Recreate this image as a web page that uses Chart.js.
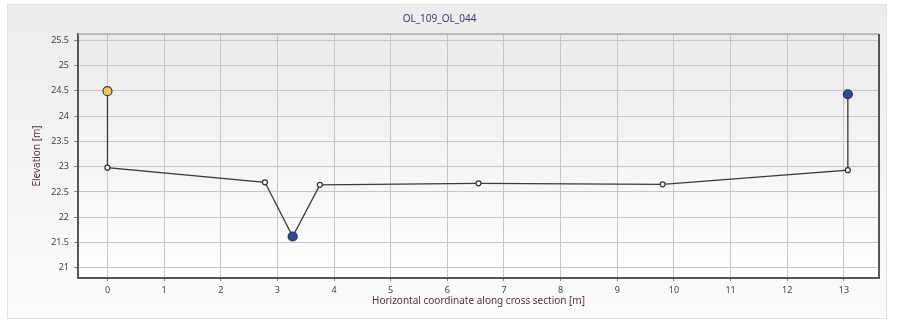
<!DOCTYPE html>
<html>
<head>
<meta charset="utf-8">
<script src="https://cdn.jsdelivr.net/npm/chart.js@4.4.0/dist/chart.umd.min.js"></script>
<style>
  body { margin: 0; background: #fff; }
  canvas { display: block; }
</style>
</head>
<body>
<canvas id="xsec" width="902" height="320"></canvas>
<script>
// cross section OL_109_OL_044
var chartTitle = "OL_109_OL_044";
var xLabel = "Horizontal coordinate along cross section [m]";
var yLabel = "Elevation [m]";

var stationX = [0, 0, 2.78, 3.27, 3.75, 6.55, 9.80, 13.07, 13.07];
var elevation = [24.49, 22.98, 22.69, 21.62, 22.64, 22.67, 22.65, 22.93, 24.43];
// marker role for each point: bank = left bank top, thalweg, rbank = right bank top
var pointRole = ["bank", "", "", "thalweg", "", "", "", "", "rbank"];

var xMin = -0.52, xMax = 13.62;
var yMin = 20.8, yMax = 25.62;

var pts = [];
for (var i = 0; i < stationX.length; i++) {
    pts.push({ x: stationX[i], y: elevation[i] });
}

var bgPlugin = {
    id: 'bgPlugin',
    beforeDraw: function (chart) {
        var c = chart.ctx;
        var a = chart.chartArea;
        c.save();
        var g = c.createLinearGradient(0, 4, 0, 318);
        g.addColorStop(0, "#ececec");
        g.addColorStop(1, "#fbfbfb");
        c.fillStyle = g;
        c.fillRect(7, 4, 879, 314);
        c.strokeStyle = "#e2e2e2";
        c.lineWidth = 1;
        c.strokeRect(7.5, 4.5, 879, 314);
        var g2 = c.createLinearGradient(0, a.top, 0, a.bottom);
        g2.addColorStop(0, "#ebebeb");
        g2.addColorStop(1, "#fefefe");
        c.fillStyle = g2;
        c.fillRect(a.left, a.top, a.right - a.left, a.bottom - a.top);
        c.restore();
    },
    afterDraw: function (chart) {
        var c = chart.ctx;
        var a = chart.chartArea;
        c.save();
        c.strokeStyle = "#a8a8a8";
        c.lineWidth = 1.5;
        c.beginPath();
        c.moveTo(a.left, a.top);
        c.lineTo(a.right, a.top);
        c.stroke();
        c.strokeStyle = "#555";
        c.lineWidth = 2;
        c.beginPath();
        c.moveTo(a.right, a.top);
        c.lineTo(a.right, a.bottom);
        c.stroke();
        c.restore();
    }
};

function roleFill(ctx) {
    var r = pointRole[ctx.dataIndex];
    if (r === "bank") return "#f2c55a";
    if (r === "thalweg" || r === "rbank") return "#2c4b94";
    return "#f4f4f4";
}
function roleBorder(ctx) {
    var r = pointRole[ctx.dataIndex];
    if (r === "bank") return "#3a3a3a";
    if (r === "thalweg" || r === "rbank") return "#1c2f6a";
    return "#333";
}
function roleRadius(ctx) {
    return pointRole[ctx.dataIndex] ? 4.5 : 2.5;
}

var tickFont = { family: "'Noto Sans', sans-serif", size: 9 };
var labelFont = { family: "'Noto Sans', sans-serif", size: 10, weight: 'normal' };

var ctx = document.getElementById("xsec").getContext('2d');
var xsec = new Chart(ctx, {
    type: 'scatter',
    data: {
        datasets: [
            {
                label: "Cross section",
                data: pts,
                showLine: true,
                borderColor: "#3a3a3a",
                borderWidth: 1.3,
                pointBackgroundColor: roleFill,
                pointBorderColor: roleBorder,
                pointBorderWidth: 1.2,
                pointRadius: roleRadius,
                fill: false,
                tension: 0
            }
        ]
    },
    options: {
        responsive: false,
        animation: false,
        devicePixelRatio: 1,
        layout: { padding: { left: 0, right: 23, top: 0, bottom: 0 } },
        plugins: {
            legend: { display: false },
            tooltip: { enabled: false },
            title: {
                display: true,
                text: chartTitle,
                color: "#3b3b78",
                font: labelFont,
                padding: { top: 13, bottom: 9 }
            }
        },
        scales: {
            x: {
                type: 'linear',
                min: xMin,
                max: xMax,
                afterFit: function (scale) { scale.height = 42; },
                ticks: {
                    stepSize: 1,
                    includeBounds: false,
                    color: "#444",
                    padding: 4,
                    maxRotation: 0,
                    font: tickFont
                },
                grid: { color: "#c6c6c6", lineWidth: 1, tickLength: 3, tickColor: "#888" },
                border: { color: "#555", width: 2 },
                title: {
                    display: true,
                    text: xLabel,
                    color: "#553048",
                    font: labelFont,
                    padding: { top: 0, bottom: 13 }
                }
            },
            y: {
                type: 'linear',
                min: yMin,
                max: yMax,
                afterFit: function (scale) { scale.width = 78; },
                ticks: {
                    stepSize: 0.5,
                    includeBounds: false,
                    color: "#444",
                    padding: 5,
                    font: tickFont,
                    callback: function (v) { return String(Math.round(v * 10) / 10); }
                },
                grid: { color: "#c6c6c6", lineWidth: 1, tickLength: 4, tickColor: "#888" },
                border: { color: "#555", width: 2 },
                title: {
                    display: true,
                    text: yLabel,
                    color: "#553048",
                    font: labelFont,
                    padding: { top: 31, bottom: 0 }
                }
            }
        }
    },
    plugins: [bgPlugin]
});
</script>
</body>
</html>
